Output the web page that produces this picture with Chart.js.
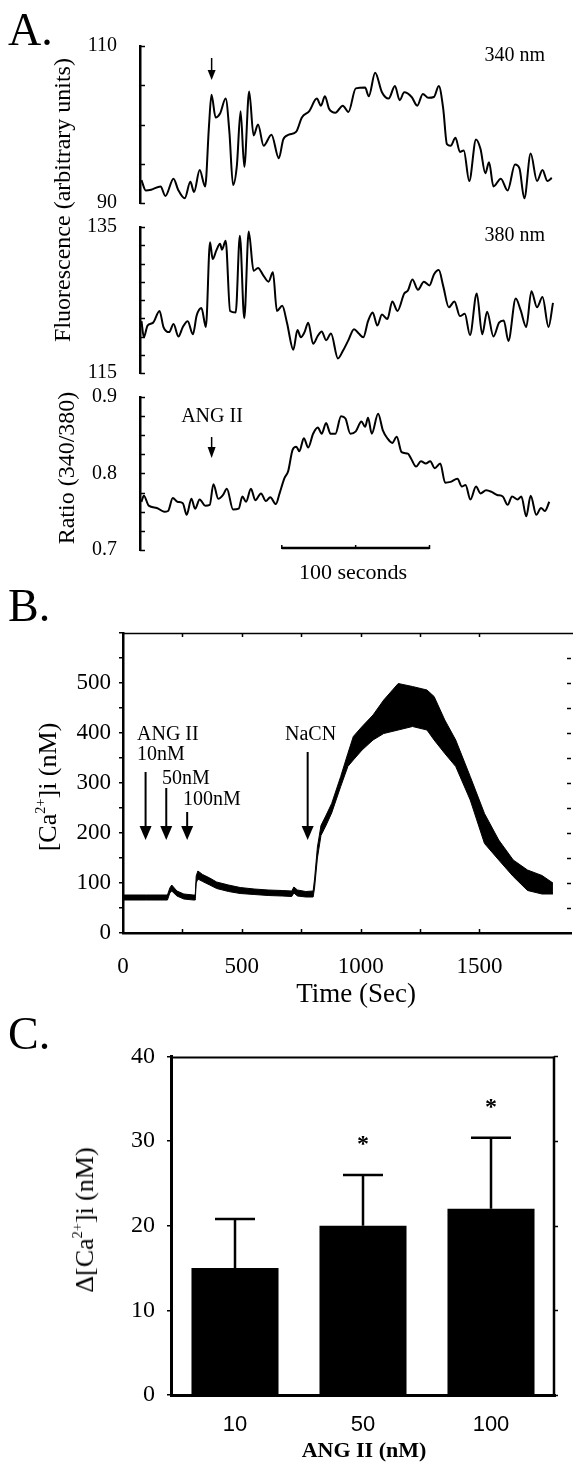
<!DOCTYPE html>
<html>
<head>
<meta charset="utf-8">
<title>ANG II calcium responses</title>
<script src="https://cdn.jsdelivr.net/npm/chart.js@4.4.1/dist/chart.umd.min.js"></script>
<style>
  body { margin: 0; width: 583px; height: 1467px; background: #fff; position: relative; overflow: hidden;
         font-family: "Liberation Serif", "Times New Roman", serif; color: #000; }
  canvas { position: absolute; left: 0; }
  .t { position: absolute; white-space: nowrap; line-height: 1; }
  .c { transform: translate(-50%, -50%); }
  .r { transform: translate(-50%, -50%) rotate(-90deg); }
  .panel { font-size: 46px; transform: translateY(-50%); }
  sup { font-size: 0.55em; line-height: 0; vertical-align: 0.75em; }
</style>
</head>
<body>

<canvas id="a1" width="583" height="230" style="top:0px"></canvas>
<canvas id="a2" width="583" height="200" style="top:200px"></canvas>
<canvas id="a3" width="583" height="220" style="top:370px"></canvas>
<canvas id="b" width="583" height="420" style="top:600px"></canvas>
<canvas id="cc" width="583" height="437" style="top:1030px"></canvas>

<div class="t panel" style="left:8px;top:30px">A.</div>
<div class="t" style="right:38px;top:44px;font-size:20px">340 nm</div>
<div class="t" style="right:38px;top:224px;font-size:20px">380 nm</div>
<div class="t r" style="left:62px;top:200px;font-size:24px">Fluorescence (arbitrary units)</div>
<div class="t r" style="left:66px;top:468px;font-size:24px">Ratio (340/380)</div>
<div class="t c" style="left:212px;top:415px;font-size:20px">ANG II</div>
<div class="t c" style="left:353px;top:572px;font-size:22px">100 seconds</div>

<div class="t panel" style="left:8px;top:606px">B.</div>
<div class="t r" style="left:48px;top:787px;font-size:26px">[Ca<sup>2+</sup>]i (nM)</div>
<div class="t" style="left:137px;top:723px;font-size:20px">ANG II</div>
<div class="t" style="left:137px;top:743px;font-size:20px">10nM</div>
<div class="t" style="left:162px;top:767px;font-size:20px">50nM</div>
<div class="t" style="left:183px;top:788px;font-size:20px">100nM</div>
<div class="t" style="left:285px;top:723px;font-size:20px">NaCN</div>
<div class="t c" style="left:356px;top:993px;font-size:27px">Time (Sec)</div>

<div class="t panel" style="left:8px;top:1034px">C.</div>
<div class="t r" style="left:85px;top:1220px;font-size:26px">&Delta;[Ca<sup>2+</sup>]i (nM)</div>
<div class="t c" style="left:364px;top:1450px;font-size:22px;font-weight:bold">ANG II (nM)</div>

<script>
// ---------- A: fura-2 traces of one cell, time in seconds ----------
const a1Time = [0,2.9,6.6,12.9,16.2,21.7,24.8,29.3,33.1,35.6,39.4,43.1,45.7,47.4,50.2,53.2,57.0,59.5,62.0,64.6,67.1,69.6,72.9,75.9,78.9,82.7,88.0,93.0,96.0,99.8,104.8,108.6,113.6,118.7,121.5,124.2,127.0,131.3,136.3,140.1,145.1,151.4,153.9,158.2,162.8,167.3,171.6,174.8,177.9,182.9,186.7,190.5,194.2,198.0,201.3,204.3,206.8,209.3,212.6,215.6,218.2,221.9,226.5,229.5,232.8,235.3,238.3,243.3,247.9,252.9,255.9,259.2,263.5,267.8,271.5,274.8,277.8]
const a1Fluor = [92.9,91.6,91.7,92.1,90.9,93.1,91.7,90.6,92.7,91.4,94.2,92.1,99.8,103.8,100.9,101.4,103.3,99.1,92.3,94.8,101.7,94.6,104.2,98.6,100,97.3,98.7,95.7,98.1,98.7,99.1,100.9,101.7,103.3,102.4,103.6,102,101.5,102.4,101.6,104.6,104.7,103.6,106.6,104.1,103.3,104.9,103.1,104.1,103.5,102.4,103.9,103.4,103.5,104.9,102,97.5,97.3,98.3,96.5,96.7,92.8,98.1,96.9,93.8,95.2,92.1,93.1,91.6,94.9,94.4,90.6,96.3,92.8,94.2,92.8,93.2]

const a2Time = [0,1.6,4.1,7.9,12.2,14.9,18.7,21.7,25.0,28.0,31.3,34.8,37.4,40.6,43.6,46.4,48.2,50.7,53.2,54.5,57.0,60.0,63.8,66.6,69.6,72.6,75.9,78.9,82.7,86.0,89.0,91.7,95.3,98.5,102.8,105.6,107.9,110.4,112.9,116.2,119.4,122.0,125.0,128.3,133.0,136.3,140.1,143.9,147.1,150.2,153.4,156.5,159.7,162.8,166.5,169.8,173.3,177.9,180.4,183.4,187.2,191.2,195.0,198.0,201.3,204.3,208.1,211.9,215.6,218.9,222.4,227.0,230.7,234.0,238.3,242.1,245.3,248.4,253.4,256.7,260.5,264.0,267.8,271.5,275.6,278.6]
const a2Fluor = [122.1,119.9,121.5,121.9,123.5,121.3,120.6,121.7,120,121.3,122.1,120.3,122.9,123.9,121.3,132.9,130.6,131.8,132.7,131.9,133.1,123.5,123.3,133.8,122.5,134.4,129,129.4,128.3,127.5,128.8,123.5,124.2,121.9,118.2,120.9,119.9,120.6,121.9,119,120.1,120.7,119.5,120.4,117,118,119.5,121,120.4,119.9,122.1,123.3,121.5,123,122.4,124.8,123.5,125.9,126.3,127.8,126.4,127.5,127.0,128.5,129.1,126.9,124,124.8,122.8,123.1,120.2,125.9,120.3,123.4,120,121.9,122.2,119.4,125.2,123.6,121.3,126.2,124,125.4,121.3,124.6]

const a3Time = [0,1.6,4.9,10.4,15.4,18.0,21.2,24.3,28.0,30.6,33.8,36.3,39.4,43.1,46.2,48.7,52.0,55.2,57.8,62.0,65.8,68.3,70.8,74.1,77.1,80.9,84.2,87.2,91.0,93.5,96.8,99.3,102.3,104.8,106.9,109.9,112.9,116.2,119.4,122.0,125.0,128.0,131.3,135.1,138.1,141.4,145.1,148.9,151.4,153.4,155.9,160.2,163.5,166.5,169.8,172.8,176.1,180.4,182.4,185.9,189.2,192.5,195.5,198.5,202.3,205.6,209.3,213.9,216.9,219.4,222.7,226.5,229.5,233.3,237.0,240.8,244.6,247.9,250.9,254.7,257.2,260.5,263.5,267.3,270.5,273.1,276.1]
const a3Ratio = [0.763,0.771,0.758,0.755,0.750,0.751,0.768,0.763,0.761,0.746,0.767,0.754,0.766,0.758,0.759,0.786,0.767,0.772,0.780,0.753,0.754,0.770,0.763,0.780,0.765,0.774,0.764,0.769,0.760,0.774,0.794,0.803,0.831,0.835,0.829,0.846,0.834,0.852,0.860,0.852,0.866,0.852,0.852,0.875,0.872,0.852,0.855,0.868,0.861,0.873,0.852,0.878,0.856,0.846,0.840,0.848,0.828,0.826,0.820,0.809,0.816,0.813,0.816,0.807,0.813,0.788,0.789,0.793,0.783,0.785,0.766,0.783,0.774,0.778,0.776,0.772,0.770,0.759,0.770,0.766,0.770,0.744,0.771,0.746,0.755,0.751,0.763]

const a1Ticks = [110, 90]
const a2Ticks = [135, 115]
const a3Ticks = [0.9, 0.8, 0.7]
const angArrowTime = 47.5
const scaleBarStart = 95
const scaleBarLen = 100

// ---------- B: population [Ca2+]i, envelope of the noisy trace ----------
const bTime = [0,99,187,197,205,227,256,296,304,308,315,335,365,394,444,493,552,611,670,710,719,734,769,800,806,818,833,855,878,916,946,969,1006,1052,1097,1158,1218,1279,1309,1354,1400,1461,1521,1581,1642,1702,1763,1809]
const bLow  = [66,66,66,80,84,74,68,66,66,100,108,103,96,89,83,79,77,75,74,73,80,74,72,72,90,150,195,216,240,293,333,346,366,386,399,406,413,406,386,359,333,266,179,146,113,85,78,78]
const bHigh = [76,76,76,90,96,84,78,76,76,114,124,117,110,102,96,91,88,86,85,84,92,86,83,84,108,172,215,236,259,313,359,393,413,436,466,499,493,486,473,426,386,313,239,186,146,126,115,100]
const bArrowTime = [95, 182, 270, 777]
const bArrowFrom = [322, 290, 242, 362]
const bArrowTo = 186

// ---------- C: peak increase by dose ----------
const cDose = ['10', '50', '100']
const cMean = [15, 20, 22]
const cErr = [5.8, 6.0, 8.4]
const cSig = [false, true, true]

const serif = 'Liberation Serif'

function arrow(ctx, x, y0, y1, w, h, lw) {
    ctx.save()
    ctx.strokeStyle = '#000'
    ctx.fillStyle = '#000'
    ctx.lineWidth = lw
    ctx.beginPath()
    ctx.moveTo(x, y0)
    ctx.lineTo(x, y1 - h + 1)
    ctx.stroke()
    ctx.beginPath()
    ctx.moveTo(x - w / 2, y1 - h)
    ctx.lineTo(x + w / 2, y1 - h)
    ctx.lineTo(x, y1)
    ctx.closePath()
    ctx.fill()
    ctx.restore()
}

function near(list, v) {
    return list.some((l) => Math.abs(l - v) < 1e-6)
}

// inward tick marks on the left axis of the A traces
const innerTicks = {
    id: 'innerTicks',
    afterDraw(chart) {
        let y = chart.scales.y
        let ctx = chart.ctx
        let x = chart.chartArea.left
        ctx.save()
        ctx.strokeStyle = '#000'
        ctx.lineWidth = 1.5
        y.ticks.forEach((t) => {
            let py = Math.round(y.getPixelForValue(t.value)) + 0.5
            ctx.beginPath()
            ctx.moveTo(x, py)
            ctx.lineTo(x + 5, py)
            ctx.stroke()
        })
        ctx.restore()
    }
}

function traceChart(id, time, values, yMin, yMax, step, labels, fmt, padTop, padBottom, extra) {
    let plugins = [innerTicks]
    if (extra) plugins.push(extra)
    return new Chart(document.getElementById(id), {
        type: 'line',
        data: {
            datasets: [{
                data: time.map((t, i) => ({x: t, y: values[i]})),
                borderColor: '#000',
                borderWidth: 2,
                pointRadius: 0,
                cubicInterpolationMode: 'monotone',
                fill: false
            }]
        },
        options: {
            responsive: false,
            animation: false,
            layout: {autoPadding: false, padding: {top: padTop, bottom: padBottom, left: 0, right: 25}},
            plugins: {legend: {display: false}, tooltip: {enabled: false}},
            scales: {
                x: {type: 'linear', min: -1, max: 282, display: false},
                y: {
                    min: yMin, max: yMax,
                    afterFit: (s) => { s.width = 140 },
                    grid: {display: false},
                    border: {display: true, color: '#000', width: 2.5},
                    ticks: {
                        stepSize: step, autoSkip: false, padding: 15, color: '#000',
                        font: {family: serif, size: 20},
                        callback: (v) => near(labels, v) ? fmt(v) : ''
                    }
                }
            }
        },
        plugins: plugins
    })
}

traceChart('a1', a1Time, a1Fluor, 90, 110, 5, a1Ticks, (v) => v, 46, 25, {
    id: 'a1Arrow',
    afterDraw(chart) {
        let x = chart.scales.x.getPixelForValue(angArrowTime)
        arrow(chart.ctx, x, 58, 80, 8, 10, 1.5)
    }
})

traceChart('a2', a2Time, a2Fluor, 115, 135, 2.5, a2Ticks, (v) => v, 15, 25)

traceChart('a3', a3Time, a3Ratio, 0.7, 0.9, 0.025, a3Ticks, (v) => v.toFixed(1), 20, 40, {
    id: 'a3Marks',
    afterDraw(chart) {
        let ctx = chart.ctx
        let xs = chart.scales.x
        let x = xs.getPixelForValue(angArrowTime)
        arrow(ctx, x, 437 - 370, 458 - 370, 8, 11, 1.5)
        // 100 s scale bar
        let x0 = xs.getPixelForValue(scaleBarStart)
        let x1 = xs.getPixelForValue(scaleBarStart + scaleBarLen)
        let xm = xs.getPixelForValue(scaleBarStart + scaleBarLen / 2)
        let yb = chart.chartArea.bottom - 2
        ctx.save()
        ctx.strokeStyle = '#000'
        ctx.lineWidth = 2.5
        ctx.beginPath()
        ctx.moveTo(x0, yb)
        ctx.lineTo(x1, yb)
        ctx.stroke()
        ctx.lineWidth = 1.5
        ;[x0, xm, x1].forEach((px) => {
            ctx.beginPath()
            ctx.moveTo(px, yb - 3)
            ctx.lineTo(px, yb + 1)
            ctx.stroke()
        })
        ctx.restore()
    }
})

// ---------- B ----------
new Chart(document.getElementById('b'), {
    type: 'line',
    data: {
        datasets: [{
            data: bTime.map((t, i) => ({x: t, y: bLow[i]})),
            borderColor: '#000', borderWidth: 1, pointRadius: 0, fill: false
        }, {
            data: bTime.map((t, i) => ({x: t, y: bHigh[i]})),
            borderColor: '#000', borderWidth: 1, pointRadius: 0,
            backgroundColor: '#000', fill: '-1'
        }]
    },
    options: {
        responsive: false,
        animation: false,
        layout: {autoPadding: false, padding: {top: 33, bottom: 47, left: 0, right: 2}},
        plugins: {legend: {display: false}, tooltip: {enabled: false}},
        scales: {
            x: {
                type: 'linear', min: 0, max: 1885,
                afterFit: (s) => { s.height = 40 },
                grid: {display: false},
                border: {display: true, color: '#000', width: 2.5},
                ticks: {
                    stepSize: 250, autoSkip: false, maxRotation: 0, padding: 12, color: '#000',
                    font: {family: serif, size: 23},
                    callback: (v) => v % 500 === 0 ? v : ''
                }
            },
            y: {
                min: 0, max: 600,
                afterFit: (s) => { s.width = 123 },
                grid: {drawOnChartArea: false, tickLength: 4, color: '#000', lineWidth: 1.5},
                border: {display: true, color: '#000', width: 2.5},
                ticks: {
                    stepSize: 50, autoSkip: false, padding: 8, color: '#000',
                    font: {family: serif, size: 23},
                    callback: (v) => (v % 100 === 0 && v <= 500) ? v : ''
                }
            }
        }
    },
    plugins: [{
        id: 'bMarks',
        afterDraw(chart) {
            let ctx = chart.ctx
            let a = chart.chartArea
            let xs = chart.scales.x
            let ys = chart.scales.y
            ctx.save()
            ctx.strokeStyle = '#000'
            ctx.lineWidth = 1.5
            ctx.beginPath()
            ctx.moveTo(a.left, a.top + 0.5)
            ctx.lineTo(a.right + 2, a.top + 0.5)
            ctx.stroke()
            xs.ticks.forEach((t) => {
                if (t.value % 250 !== 0 || t.value === 0) return
                let px = Math.round(xs.getPixelForValue(t.value)) + 0.5
                ctx.beginPath()
                ctx.moveTo(px, a.bottom - 1)
                ctx.lineTo(px, a.bottom - 4)
                ctx.moveTo(px, a.top)
                ctx.lineTo(px, a.top + 4)
                ctx.stroke()
            })
            ys.ticks.forEach((t) => {
                if (t.value === 0 || t.value === 600) return
                let py = Math.round(ys.getPixelForValue(t.value)) + 0.5
                ctx.beginPath()
                ctx.moveTo(a.right - 4, py)
                ctx.lineTo(a.right, py)
                ctx.stroke()
            })
            ctx.restore()
            bArrowTime.forEach((t, i) => {
                let px = xs.getPixelForValue(t)
                arrow(ctx, px, ys.getPixelForValue(bArrowFrom[i]), ys.getPixelForValue(bArrowTo), 12, 14, 2)
            })
        }
    }]
})

// ---------- C ----------
new Chart(document.getElementById('cc'), {
    type: 'bar',
    data: {
        labels: cDose,
        datasets: [{
            data: cMean,
            backgroundColor: '#000',
            borderWidth: 0,
            categoryPercentage: 1,
            barPercentage: 0.68
        }]
    },
    options: {
        responsive: false,
        animation: false,
        layout: {autoPadding: false, padding: {top: 22, bottom: 27, left: 0, right: 28}},
        plugins: {legend: {display: false}, tooltip: {enabled: false}},
        scales: {
            x: {
                afterFit: (s) => { s.height = 45 },
                grid: {display: false},
                border: {display: true, color: '#000', width: 3},
                ticks: {padding: 9, color: '#000', font: {family: 'Liberation Sans', size: 22}}
            },
            y: {
                min: 0, max: 40,
                afterFit: (s) => { s.width = 171 },
                grid: {drawOnChartArea: false, tickLength: 4, color: '#000', lineWidth: 1.5},
                border: {display: true, color: '#000', width: 3},
                ticks: {stepSize: 10, padding: 12, color: '#000', font: {family: serif, size: 24}}
            }
        }
    },
    plugins: [{
        id: 'cMarks',
        afterDraw(chart) {
            let ctx = chart.ctx
            let a = chart.chartArea
            let ys = chart.scales.y
            let meta = chart.getDatasetMeta(0)
            ctx.save()
            ctx.strokeStyle = '#000'
            ctx.lineWidth = 2
            ctx.beginPath()
            ctx.moveTo(a.left, a.top + 1)
            ctx.lineTo(a.right, a.top + 1)
            ctx.stroke()
            ctx.lineWidth = 2.5
            ctx.beginPath()
            ctx.moveTo(a.right - 1, a.top)
            ctx.lineTo(a.right - 1, a.bottom)
            ctx.stroke()
            ctx.lineWidth = 1.5
            ys.ticks.forEach((t) => {
                let py = Math.round(ys.getPixelForValue(t.value)) + 0.5
                ctx.beginPath()
                ctx.moveTo(a.right - 1, py)
                ctx.lineTo(a.right + 3, py)
                ctx.stroke()
            })
            ctx.fillStyle = '#000'
            ctx.font = 'bold 24px ' + serif
            ctx.textAlign = 'center'
            ctx.textBaseline = 'middle'
            meta.data.forEach((bar, i) => {
                let top = ys.getPixelForValue(cMean[i] + cErr[i])
                ctx.lineWidth = 2.5
                ctx.beginPath()
                ctx.moveTo(bar.x, bar.y)
                ctx.lineTo(bar.x, top)
                ctx.moveTo(bar.x - 20, top)
                ctx.lineTo(bar.x + 20, top)
                ctx.stroke()
                if (cSig[i]) ctx.fillText('*', bar.x, top - 30)
            })
            ctx.restore()
        }
    }]
})
</script>
</body>
</html>
